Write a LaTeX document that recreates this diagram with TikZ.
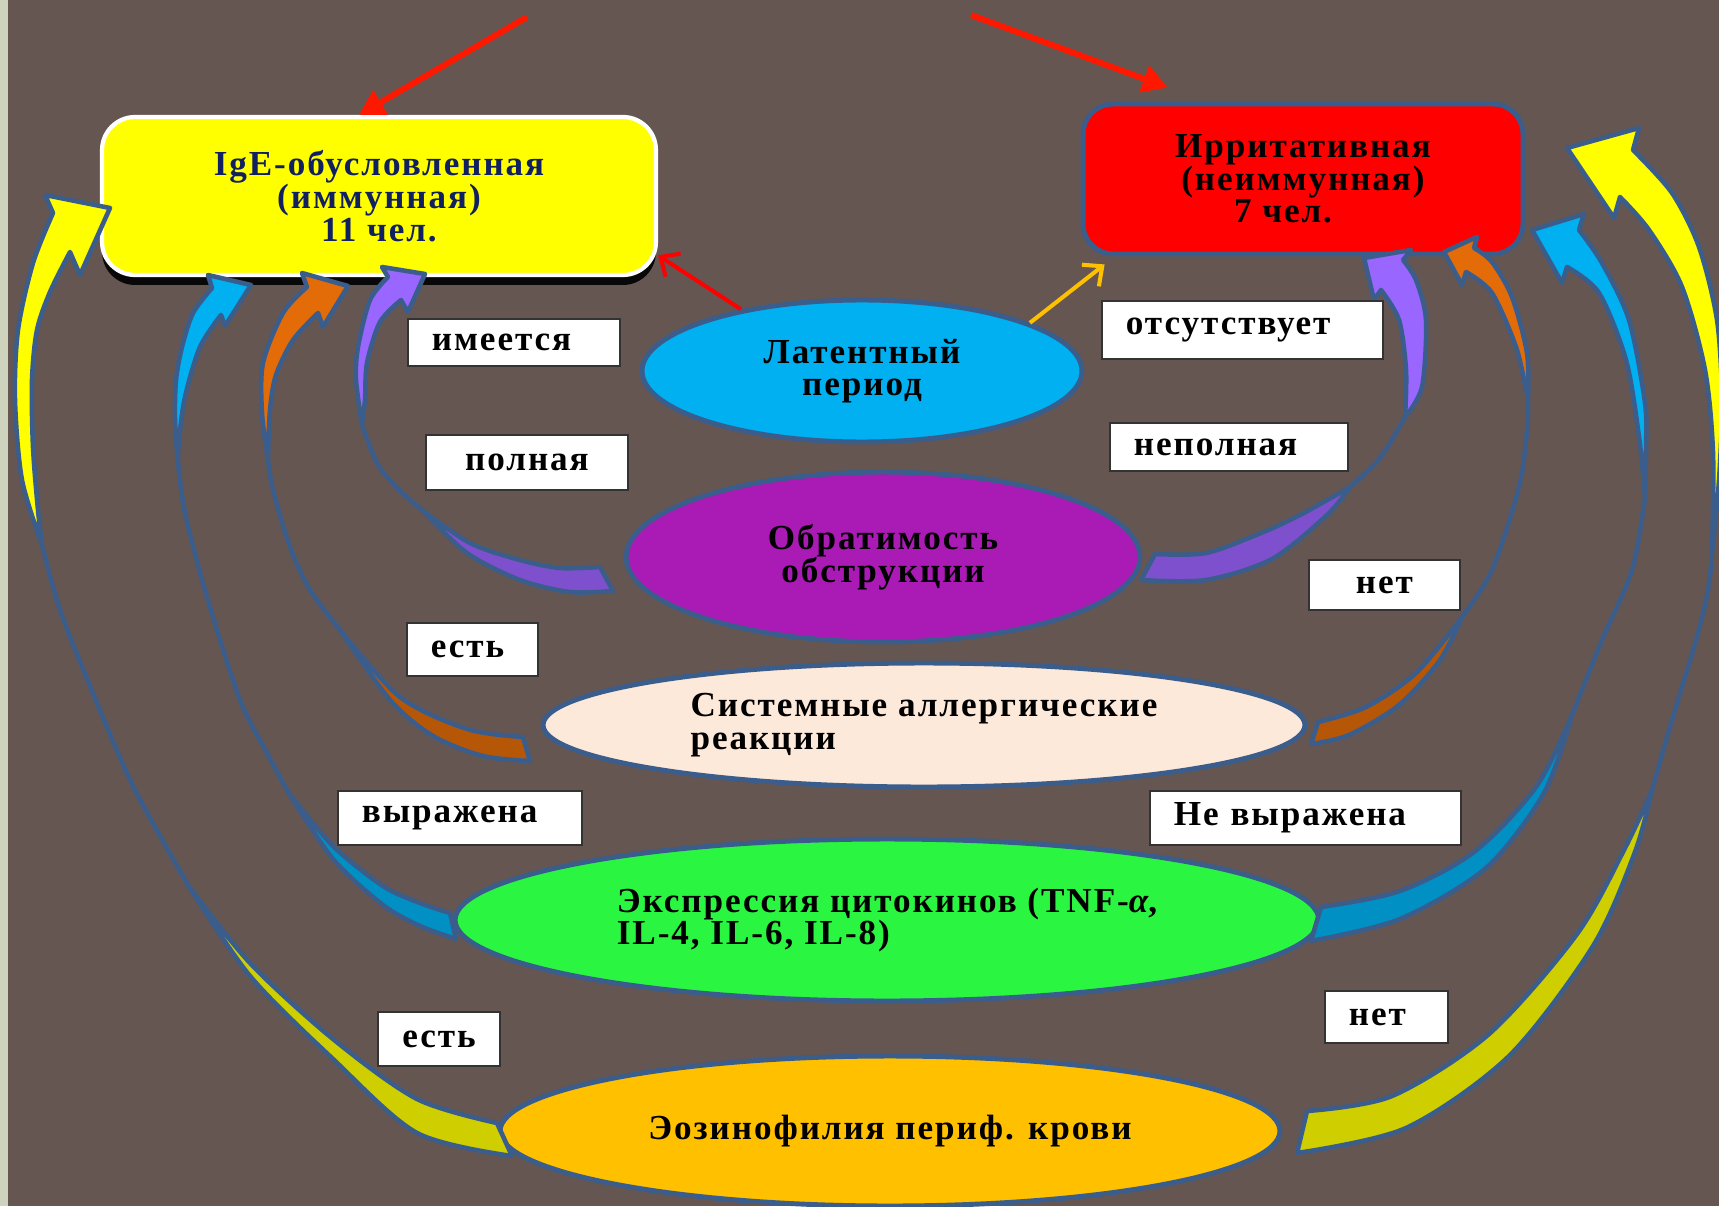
\documentclass[tikz,border=0pt]{standalone}
\usepackage{fontspec}
\setmainfont{Liberation Serif}[LetterSpace=5.5]
\usetikzlibrary{shapes.geometric,arrows.meta,shadows}

\definecolor{bgbrown}{RGB}{101,86,82}
\definecolor{stripgrey}{RGB}{206,211,190}
\definecolor{rimblue}{RGB}{59,93,140}
\definecolor{navytext}{RGB}{16,32,96}
\definecolor{latentblue}{RGB}{0,176,240}
\definecolor{obstrviolet}{RGB}{170,26,180}
\definecolor{allergpeach}{RGB}{253,233,218}
\definecolor{cytokgreen}{RGB}{42,246,66}
\definecolor{eosinamber}{RGB}{255,192,0}
\definecolor{yellowfront}{RGB}{255,255,0}
\definecolor{yellowback}{RGB}{206,206,0}
\definecolor{cyanfront}{RGB}{0,176,240}
\definecolor{cyanback}{RGB}{0,144,196}
\definecolor{orangefront}{RGB}{227,108,9}
\definecolor{orangeback}{RGB}{182,87,8}
\definecolor{violetfront}{RGB}{153,102,255}
\definecolor{violetback}{RGB}{127,80,206}
\definecolor{arrowred}{RGB}{255,24,0}

\newcommand{\boxfont}{\bfseries\fontsize{20}{18.6}\selectfont}

% ribbon arrow: front colour, back colour, outer tail part, inner tail part,
% outer middle, outer head part, head, inner head part
\newcommand{\bigbend}[8]{%
	\fill[#2] plot[smooth] coordinates {#3} -- plot[smooth] coordinates {#4} -- cycle;
	\fill[#1] plot[smooth] coordinates {#6} #7 -- plot[smooth] coordinates {#8} -- cycle;
	\draw[rim] plot[smooth] coordinates {#3} -- plot[smooth] coordinates {#4} -- cycle;
	\draw[rim] plot[smooth] coordinates {#5} -- plot[smooth] coordinates {#6} #7 -- plot[smooth] coordinates {#8};
}

\begin{document}
\begin{tikzpicture}[x=0.02cm, y=-0.02cm,
	every node/.style={font=\boxfont},
	oval/.style={ellipse, draw=rimblue, line width=2.8pt, inner sep=0pt, align=center},
	lbl/.style={rectangle, draw=black!80, line width=1.1pt, fill=white, anchor=north west,
		inner xsep=0.48cm, inner ysep=0pt, align=left, text width=#1},
	rim/.style={draw=rimblue, line width=2.6pt, line join=round},
	toparrow/.style={draw=arrowred, line width=3.4pt, -{Triangle[length=0.5cm,width=0.55cm]}},
	thinarrow/.style={line width=2.3pt, -{Straight Barb[length=0.3cm,width=0.55cm]}}]
	\fill[bgbrown] (0,0) rectangle (1719,1206);
	\fill[stripgrey] (0,0) rectangle (8,1206);
	\useasboundingbox (0,0) rectangle (1719,1206);

	\node[rectangle, rounded corners=0.66cm, fill=yellowfront, draw=white, line width=2.4pt,
		minimum width=11.08cm, minimum height=3.16cm, text=navytext, align=center,
		drop shadow={shadow xshift=0cm, shadow yshift=-0.2cm, fill=black, opacity=0.9}]
		(igebox) at (379,196) {IgE-обусловленная\\(иммунная)\\11 чел.};
	\node[rectangle, rounded corners=0.6cm, fill=red, draw=rimblue, line width=2.8pt,
		minimum width=8.8cm, minimum height=3cm, align=center]
		(irrbox) at (1303,179) {Ирритативная\\(неиммунная)\\7 чел.\hspace*{0.8cm}};

	\node[oval, fill=latentblue, minimum width=8.8cm, minimum height=2.84cm] (latent) at (862,371) {Латентный\\период};
	\node[oval, fill=obstrviolet, minimum width=10.28cm, minimum height=3.4cm] (obstr) at (883,557) {Обратимость\\обструкции};
	\node[oval, fill=allergpeach, minimum width=15.24cm, minimum height=2.48cm, align=left] (allerg) at (924,725) {Системные аллергические\\реакции};
	\node[oval, fill=cytokgreen, minimum width=17.28cm, minimum height=3.24cm, align=left] (cytok) at (887,920) {Экспрессия цитокинов (TNF-\textit{α},\\IL-4, IL-6, IL-8)};
	\node[oval, fill=eosinamber, minimum width=15.6cm, minimum height=3cm] (eosin) at (890,1131) {Эозинофилия периф. крови};

	\coordinate (fromleft) at (527,17);
	\coordinate (fromright) at (971,15);
	\draw[toparrow] (fromleft) -- ([xshift=-0.4cm]igebox.north);
	\draw[toparrow] (fromright) -- ([xshift=1.74cm,yshift=0.28cm]irrbox.north west);
	\draw[thinarrow, draw=red] (latent.153) -- (igebox.-12);
	\draw[thinarrow, draw=eosinamber] (latent.16) -- ([xshift=0.48cm,yshift=-0.16cm]irrbox.south west);

	% to igebox
	\bigbend{yellowfront}{yellowback}
		{(512,1156) (417,1133) (333,1059) (250,976) (188,885)}
		{(188,885) (250,963) (333,1039) (417,1099) (497,1123)}
		{(188,885) (133,786) (90,686) (60,610) (42,545)}
		{(42,545) (22,480) (15,400) (18,330) (33,263) (53,213)}
		{-- (45,195) -- (110,208) -- (80,275) -- (70,252)}
		{(70,252) (50,292) (37,330) (32,380) (33,447) (38,510) (42,545)}
	\bigbend{cyanfront}{cyanback}
		{(456,939) (420,926) (383,905) (333,859) (288,792)}
		{(288,792) (333,846) (383,886) (420,903) (450,913)}
		{(288,792) (267,753) (240,700) (207,597) (185,513) (178,462)}
		{(178,462) (175,420) (176,380) (182,347) (193,313) (212,288)}
		{-- (208,275) -- (251,285) -- (225,326) -- (221,315)}
		{(221,315) (200,347) (185,397) (179,440) (178,462)}
	\bigbend{orangefront}{orangeback}
		{(530,761) (483,756) (433,736) (390,700) (340,630)}
		{(340,630) (400,697) (467,729) (523,737)}
		{(340,630) (310,590) (290,547) (273,490) (268,460)}
		{(268,460) (262,413) (263,363) (283,313) (307,287)}
		{-- (302,273) -- (348,286) -- (323,327) -- (318,313)}
		{(318,313) (293,340) (276,375) (270,410) (268,460)}
	\bigbend{violetfront}{violetback}
		{(613,591) (570,592) (520,580) (467,553) (422,510)}
		{(422,510) (470,543) (520,560) (560,568) (600,567)}
		{(422,510) (397,488) (377,463) (362,425)}
		{(362,425) (356,380) (358,347) (370,300) (388,277)}
		{-- (382,267) -- (425,274) -- (408,312) -- (401,300)}
		{(401,300) (380,322) (367,363) (365,400) (362,425)}

	% to irrbox
	\bigbend{yellowfront}{yellowback}
		{(1297,1153) (1406,1128) (1509,1056) (1593,946) (1635,852) (1652,790)}
		{(1652,790) (1625,848) (1577,934) (1489,1034) (1392,1096) (1307,1111)}
		{(1652,790) (1672,720) (1696,640) (1708,590) (1712,553)}
		{(1712,553) (1719,480) (1722,400) (1717,320) (1699,247) (1672,193) (1633,150)}
		{-- (1639,128) -- (1567,148) -- (1614,218) -- (1620,197)}
		{(1620,197) (1649,230) (1682,287) (1705,370) (1713,453) (1712,553)}
	\bigbend{cyanfront}{cyanback}
		{(1311,941) (1400,919) (1486,868) (1544,793) (1572,715)}
		{(1572,715) (1536,787) (1474,852) (1400,891) (1321,907)}
		{(1572,715) (1602,640) (1632,570) (1645,497)}
		{(1645,497) (1646,450) (1645,403) (1629,320) (1602,263) (1579,230)}
		{-- (1584,214) -- (1532,230) -- (1562,283) -- (1567,267)}
		{(1567,267) (1599,293) (1626,360) (1639,437) (1645,497)}
	\bigbend{orangefront}{orangeback}
		{(1311,744) (1349,735) (1399,705) (1440,660) (1462,617)}
		{(1462,617) (1416,673) (1366,707) (1318,722)}
		{(1462,617) (1492,570) (1519,487) (1527,430) (1528,400)}
		{(1528,400) (1527,353) (1512,297) (1492,262) (1474,248)}
		{-- (1477,237) -- (1444,252) -- (1462,285) -- (1466,272)}
		{(1466,272) (1492,293) (1516,347) (1526,390) (1528,400)}
	\bigbend{violetfront}{violetback}
		{(1141,580) (1206,580) (1272,559) (1327,515) (1350,487)}
		{(1350,487) (1300,515) (1261,533) (1206,553) (1155,554)}
		{(1350,487) (1380,458) (1405,417)}
		{(1405,417) (1422,387) (1426,320) (1416,280) (1403,260)}
		{-- (1411,250) -- (1364,258) -- (1374,300) -- (1381,290)}
		{(1381,290) (1399,320) (1406,370) (1405,417)}

	\node[lbl=3.28cm, minimum height=0.94cm] (has) at (407,318) {имеется};
	\node[lbl=3.08cm, minimum height=1.1cm, align=center] (full) at (425,434) {полная};
	\node[lbl=1.66cm, minimum height=1.06cm] (yes1) at (406,622) {есть};
	\node[lbl=3.92cm, minimum height=1.08cm] (marked) at (337,790) {выражена};
	\node[lbl=1.48cm, minimum height=1.08cm, align=center] (yes2) at (377,1011) {есть};
	\node[lbl=4.66cm, minimum height=1.16cm] (absent) at (1101,300) {отсутствует};
	\node[lbl=3.8cm, minimum height=0.96cm] (partial) at (1109,422) {неполная};
	\node[lbl=2.06cm, minimum height=1cm, align=center] (no1) at (1308,559) {нет};
	\node[lbl=5.26cm, minimum height=1.08cm] (unmarked) at (1149,790) {Не выражена};
	\node[lbl=1.5cm, minimum height=1.04cm] (no2) at (1324,990) {нет};
\end{tikzpicture}
\end{document}
